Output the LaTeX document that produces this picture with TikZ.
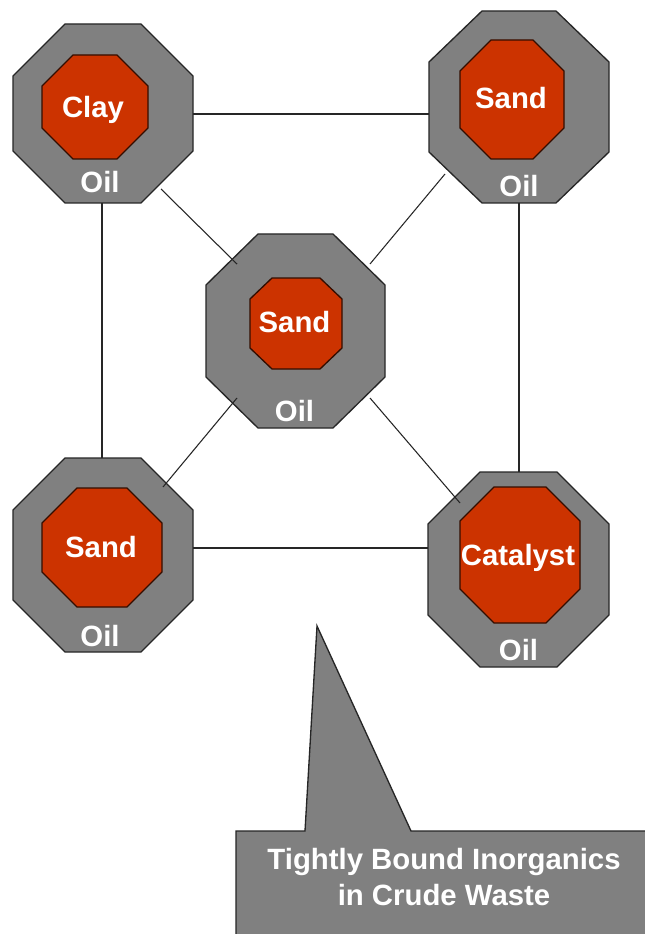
\documentclass[tikz,border=0pt]{standalone}
\usepackage{fontspec}
\setmainfont{Liberation Sans}
\definecolor{oilgray}{RGB}{128,128,128}
\definecolor{rust}{RGB}{204,51,0}
\tikzset{
  oilshell/.style={fill=oilgray, draw=black!85, line width=1pt},
  core/.style={fill=rust, draw=black!75!rust, line width=1pt},
  link/.style={draw=black!85, line width=0.8pt},
  lbl/.style={text=white, font=\bfseries\fontsize{22}{26}\selectfont, inner sep=0pt, anchor=base},
}
% octagon inside the box (x1,y1)-(x2,y2), corners cut by c horizontally and d vertically
\newcommand\octo[7]{%
  \path[#1] (#2+#6,#3) -- (#4-#6,#3) -- (#4,#3+#7) -- (#4,#5-#7) -- (#4-#6,#5)
    -- (#2+#6,#5) -- (#2,#5-#7) -- (#2,#3+#7) -- cycle;}
\begin{document}
\begin{tikzpicture}[x=0.75pt,y=-0.75pt]
  \clip (0,0) rectangle (645,934);
  \fill[white] (0,0) rectangle (645,934);

  % oil shells and their solid cores
  \octo{oilshell}{13}{24}{193}{203}{52}{52}
  \octo{core}{42}{55}{148}{159}{31}{31}
  \octo{oilshell}{429}{11}{609}{203}{53}{51}
  \octo{core}{460}{40}{564}{159}{31}{31}
  \octo{oilshell}{206}{234}{385}{428}{52}{51}
  \octo{core}{250}{278}{342}{369}{22}{21}
  \octo{oilshell}{13}{458}{193}{652}{52}{52}
  \octo{core}{42}{488}{162}{607}{35}{35}
  \octo{oilshell}{428}{472}{609}{667}{52}{52}
  \octo{core}{460}{487}{580}{623}{34}{34}

  % labels
  \node[lbl] (clay)    at (93,118)    {Clay};
  \node[lbl] (oilTL)   at (100,193)   {Oil};
  \node[lbl] (sandTR)  at (511,109)   {Sand};
  \node[lbl] (oilTR)   at (519,197)   {Oil};
  \node[lbl] (sandC)   at (294.5,332) {Sand};
  \node[lbl] (oilC)    at (294.5,421) {Oil};
  \node[lbl] (sandBL)  at (101,557)   {Sand};
  \node[lbl] (oilBL)   at (100,646)   {Oil};
  \node[lbl] (cat)     at (518,565)   {Catalyst};
  \node[lbl] (oilBR)   at (518.5,660) {Oil};

  % connector ends
  \coordinate (tlE) at (193,114);  \coordinate (trW) at (429,114);
  \coordinate (tlS) at (102,203);  \coordinate (blN) at (102,458);
  \coordinate (trS) at (519,203);  \coordinate (brN) at (519,472);
  \coordinate (blE) at (193,548);  \coordinate (brW) at (428,548);
  \coordinate (tlD) at (161,189);  \coordinate (cNW) at (237,264);
  \coordinate (trD) at (445,174);  \coordinate (cNE) at (370,264);
  \coordinate (blD) at (163,487);  \coordinate (cSW) at (237,398);
  \coordinate (brD) at (460,503);  \coordinate (cSE) at (370,398);

  \draw[link] (tlE) -- (trW);
  \draw[link] (tlS) -- (blN);
  \draw[link] (trS) -- (brN);
  \draw[link] (blE) -- (brW);
  \draw[link] (tlD) -- (cNW);
  \draw[link] (trD) -- (cNE);
  \draw[link] (cSW) -- (blD);
  \draw[link] (cSE) -- (brD);

  % callout
  \path[oilshell] (236,960) -- (236,831) -- (305,831) -- (317,626) -- (411,831)
    -- (680,831) -- (680,960) -- cycle;
  \node[lbl] (note1) at (444,869) {Tightly Bound Inorganics};
  \node[lbl] (note2) at (444,905) {in Crude Waste};
\end{tikzpicture}
\end{document}
